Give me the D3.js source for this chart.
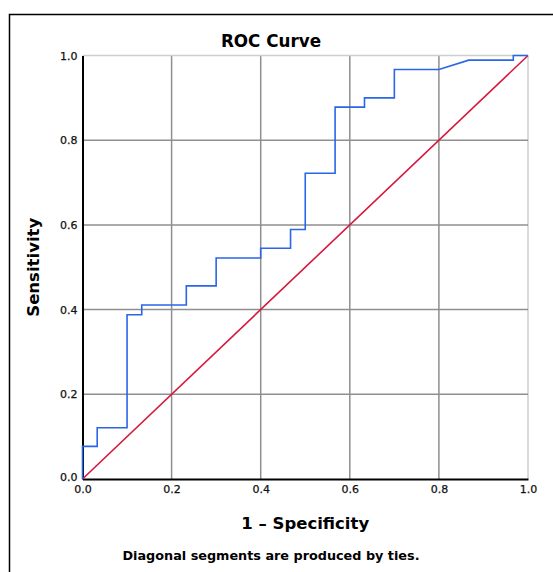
<!DOCTYPE html>
<html>
<head>
<meta charset="utf-8">
<script src="https://cdn.jsdelivr.net/npm/d3@7"></script>
<style>
    body { margin: 0; background: #fff; }
    svg { display: block; font-family: "DejaVu Sans", sans-serif; }
    .grid line { stroke: #8f8f8f; stroke-width: 1.5; }
    .tick text { font-size: 10.5px; fill: #111; }
</style>
</head>
<body>
<div class="chart"></div>
<script>
// ROC points (1 - specificity, sensitivity)
var fpr = [0, 0, 0.033, 0.033, 0.1, 0.1, 0.133, 0.133, 0.233, 0.233, 0.3, 0.3, 0.4, 0.4,
    0.467, 0.467, 0.5, 0.5, 0.567, 0.567, 0.633, 0.633, 0.7, 0.7, 0.8, 0.867, 0.967, 0.967, 1];
var tpr = [0, 0.077, 0.077, 0.121, 0.121, 0.388, 0.388, 0.411, 0.411, 0.456, 0.456, 0.522, 0.522, 0.545,
    0.545, 0.589, 0.589, 0.722, 0.722, 0.878, 0.878, 0.9, 0.9, 0.967, 0.967, 0.989, 0.989, 1, 1];
var refLine = [0, 1];
var ticks = [0, 0.2, 0.4, 0.6, 0.8, 1.0];

var width = 553;
var height = 572;
var margin = { left: 82.5, right: 25, top: 55.5, bottom: 93 };

var svg = d3.select(".chart").append("svg")
    .attr("width", width)
    .attr("height", height);

// outer frame, only the left and top edges are in view
svg.append("rect")
    .attr("x", 9.5)
    .attr("y", 14.5)
    .attr("width", 700)
    .attr("height", 700)
    .attr("fill", "none")
    .attr("stroke", "#000")
    .attr("stroke-width", 1.5);

var xScale = d3.scaleLinear()
    .domain([0, 1])
    .range([margin.left, width - margin.right]);

var yScale = d3.scaleLinear()
    .domain([0, 1])
    .range([height - margin.bottom, margin.top]);

// grid
var grid = svg.append("g").attr("class", "grid");
grid.selectAll(".vx")
    .data(ticks.slice(1))
    .enter().append("line")
    .attr("x1", function (d) { return xScale(d); })
    .attr("x2", function (d) { return xScale(d); })
    .attr("y1", yScale(0))
    .attr("y2", yScale(1))
    .style("stroke", function (d) { return d === 1 ? "#cfcfcf" : null; });
grid.selectAll(".hy")
    .data(ticks.slice(1))
    .enter().append("line")
    .attr("x1", xScale(0))
    .attr("x2", xScale(1))
    .attr("y1", function (d) { return yScale(d); })
    .attr("y2", function (d) { return yScale(d); })
    .style("stroke", function (d) { return d === 1 ? "#cfcfcf" : null; });

// axes
svg.append("g")
    .attr("class", "x axis")
    .attr("transform", "translate(0," + yScale(0) + ")")
    .call(d3.axisBottom(xScale).tickValues(ticks).tickFormat(d3.format(".1f")).tickSize(0).tickPadding(6))
    .call(function (g) {
        g.select(".domain").attr("stroke", "#000").attr("stroke-width", 2);
    });

svg.append("g")
    .attr("class", "y axis")
    .attr("transform", "translate(" + xScale(0) + ",0)")
    .call(d3.axisLeft(yScale).tickValues(ticks).tickFormat(d3.format(".1f")).tickSize(0).tickPadding(5))
    .call(function (g) {
        g.select(".domain").attr("stroke", "#000").attr("stroke-width", 2);
        g.selectAll(".tick text").filter(function (d) { return d === 0; }).attr("dy", "0.1em");
    });

svg.selectAll(".axis .tick text")
    .style("font-size", "11px")
    .style("font-family", "DejaVu Sans")
    .style("stroke", "#111")
    .style("stroke-width", 0.25);

// reference diagonal
var line = d3.line()
    .x(function (d) { return xScale(d[0]); })
    .y(function (d) { return yScale(d[1]); });

svg.append("path")
    .datum(refLine.map(function (d) { return [d, d]; }))
    .attr("d", line)
    .attr("fill", "none")
    .attr("stroke", "#d5183e")
    .attr("stroke-width", 1.6);

// ROC curve
svg.append("path")
    .datum(fpr.map(function (d, i) { return [d, tpr[i]]; }))
    .attr("d", line)
    .attr("fill", "none")
    .attr("stroke", "#2a66e8")
    .attr("stroke-width", 1.6);

// texts
svg.append("text")
    .attr("x", 271)
    .attr("y", 47)
    .attr("text-anchor", "middle")
    .style("font-size", "16.8px")
    .style("font-weight", "bold")
    .text("ROC Curve");

svg.append("text")
    .attr("x", (xScale(0) + xScale(1)) / 2)
    .attr("y", 529)
    .attr("text-anchor", "middle")
    .style("font-size", "16.5px")
    .style("font-weight", "bold")
    .text("1 \u2013 Specificity");

svg.append("text")
    .attr("transform", "translate(39," + ((yScale(0) + yScale(1)) / 2) + ") rotate(-90)")
    .attr("text-anchor", "middle")
    .style("font-size", "16.5px")
    .style("font-weight", "bold")
    .text("Sensitivity");

svg.append("text")
    .attr("x", 271)
    .attr("y", 560)
    .attr("text-anchor", "middle")
    .style("font-size", "12.8px")
    .style("font-weight", "bold")
    .text("Diagonal segments are produced by ties.");
</script>
</body>
</html>
